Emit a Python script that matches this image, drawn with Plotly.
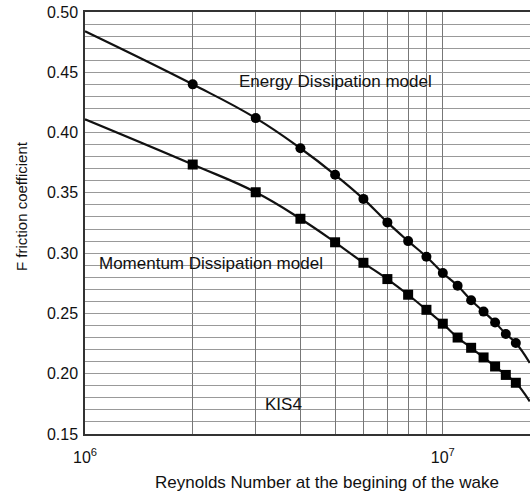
import plotly.graph_objects as go

# ---- data ----
re_points = [2e6, 3e6, 4e6, 5e6, 6e6, 7e6, 8e6, 9e6, 1e7,
             1.1e7, 1.2e7, 1.3e7, 1.4e7, 1.5e7, 1.6e7]
f_energy = [0.440, 0.412, 0.387, 0.365, 0.345, 0.3255, 0.310, 0.297, 0.2835,
            0.273, 0.261, 0.2515, 0.2425, 0.233, 0.2255]
f_momentum = [0.3735, 0.3505, 0.3285, 0.309, 0.292, 0.2785, 0.2655, 0.253, 0.2415,
              0.230, 0.2215, 0.2135, 0.206, 0.199, 0.1925]

re_curve_ends = [1e6, 1.75e7]
f_energy_ends = [0.484, 0.209]
f_momentum_ends = [0.411, 0.177]

x_grid_vals = [1e6, 2e6, 3e6, 4e6, 5e6, 6e6, 7e6, 8e6, 9e6, 1e7]
x_grid_text = ["10<sup>6</sup>", "", "", "", "", "", "", "", "", "10<sup>7</sup>"]
y_tick_vals = [0.15, 0.20, 0.25, 0.30, 0.35, 0.40, 0.45, 0.50]

FONT = "Arial, Liberation Sans, Helvetica, sans-serif"

fig = go.Figure()

for f_pts, f_ends, sym in [(f_energy, f_energy_ends, "circle"),
                           (f_momentum, f_momentum_ends, "square")]:
    xs = [re_curve_ends[0]] + re_points + [re_curve_ends[1]]
    ys = [f_ends[0]] + f_pts + [f_ends[1]]
    fig.add_trace(go.Scatter(x=xs, y=ys, mode="lines",
                             line=dict(color="#111", width=2.2, shape="spline", smoothing=1.2),
                             hoverinfo="skip", showlegend=False))
    fig.add_trace(go.Scatter(x=re_points, y=f_pts, mode="markers",
                             marker=dict(symbol=sym, size=10, color="#000"),
                             showlegend=False))

fig.update_layout(
    width=530, height=497,
    margin=dict(l=85, r=0, t=12, b=63),
    paper_bgcolor="white", plot_bgcolor="white",
    font=dict(family=FONT, color="#111", size=16),
    xaxis=dict(type="log", range=[6, 7.2437],
               tickvals=x_grid_vals, ticktext=x_grid_text,
               showgrid=True, gridcolor="#777", gridwidth=1,
               showline=True, linecolor="#333", linewidth=1.5, mirror=True,
               ticks="", ticklabelstandoff=8, zeroline=False,
               tickfont=dict(size=16)),
    yaxis=dict(range=[0.15, 0.50], tickvals=y_tick_vals, tickformat=".2f",
               showgrid=True, gridcolor="#999", gridwidth=1,
               minor=dict(dtick=0.01, tick0=0.15, showgrid=True, gridcolor="#999", gridwidth=1),
               showline=True, linecolor="#333", linewidth=1.5,
               ticks="", ticklabelstandoff=2, zeroline=False,
               tickfont=dict(size=16)),
    annotations=[
        dict(text="Energy Dissipation model", xref="paper", yref="paper",
             x=0.562, y=0.835, xanchor="center", yanchor="middle",
             showarrow=False, font=dict(size=17)),
        dict(text="Momentum Dissipation model", xref="paper", yref="paper",
             x=0.283, y=0.403, xanchor="center", yanchor="middle",
             showarrow=False, font=dict(size=17)),
        dict(text="KIS4", xref="paper", yref="paper",
             x=0.447, y=0.071, xanchor="center", yanchor="middle",
             showarrow=False, font=dict(size=17)),
        dict(text="Reynolds Number at the begining of the wake", xref="paper", yref="paper",
             x=0.544, y=-0.116, xanchor="center", yanchor="middle",
             showarrow=False, font=dict(size=17)),
        dict(text="F friction coefficient", xref="paper", yref="paper",
             x=-0.144, y=0.54, xanchor="center", yanchor="middle",
             showarrow=False, textangle=-90, font=dict(size=15)),
    ],
)

fig.write_html("out.html")
